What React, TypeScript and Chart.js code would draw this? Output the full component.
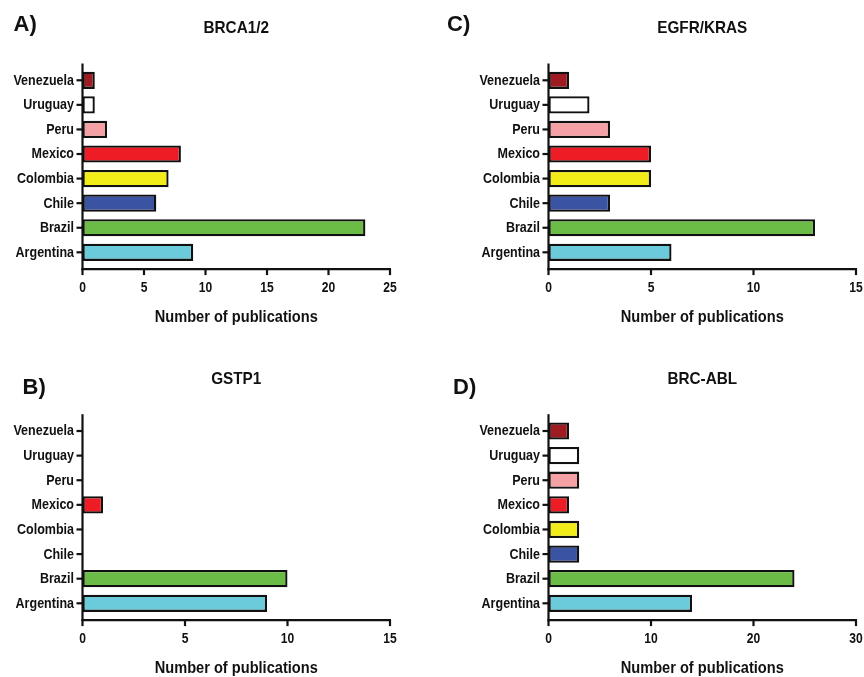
import React, { useEffect, useRef } from "react";
import { Chart, registerables } from "chart.js";

Chart.register(...registerables);

// ---------- data ----------
const countries = ["Venezuela", "Uruguay", "Peru", "Mexico", "Colombia", "Chile", "Brazil", "Argentina"];
const countryColors = ["#9E1B22", "#FFFFFF", "#F4A0A4", "#EE1D25", "#F2EC19", "#3A53A3", "#6BBC46", "#6CCBDA"];

const brcaValues = [1, 1, 2, 8, 7, 6, 23, 9];
const egfrKrasValues = [1, 2, 3, 5, 5, 3, 13, 6];
const gstp1Values = [0, 0, 0, 1, 0, 0, 10, 9];
const brcAblValues = [2, 3, 3, 2, 3, 3, 24, 14];

const panelLetters = ["A)", "C)", "B)", "D)"];
const panelTitles = ["BRCA1/2", "EGFR/KRAS", "GSTP1", "BRC-ABL"];
const panelValues = [brcaValues, egfrKrasValues, gstp1Values, brcAblValues];
const axisMax = [25, 15, 15, 30];
const axisStep = [5, 5, 5, 10];
const xAxisTitle = "Number of publications";

// ---------- layout (pixels, relative to each panel canvas) ----------
type Layout = {
  left: number; top: number; width: number; height: number;
  plotLeft: number; plotRight: number; plotTop: number; plotBottom: number;
  titleY: number; letterX: number; letterY: number;
};

const layouts: Layout[] = [
  { left: 0, top: 0, width: 432, height: 338, plotLeft: 82.5, plotRight: 390, plotTop: 68, plotBottom: 264.6, titleY: 29, letterX: 13.5, letterY: 25 },
  { left: 432, top: 0, width: 432, height: 338, plotLeft: 116.5, plotRight: 424, plotTop: 68, plotBottom: 264.6, titleY: 29, letterX: 15, letterY: 25 },
  { left: 0, top: 338, width: 432, height: 339, plotLeft: 82.5, plotRight: 390, plotTop: 80.7, plotBottom: 277.6, titleY: 42, letterX: 22.5, letterY: 50 },
  { left: 432, top: 338, width: 432, height: 339, plotLeft: 116.5, plotRight: 424, plotTop: 80.7, plotBottom: 277.6, titleY: 42, letterX: 21, letterY: 50 },
];

const FONT = "'Liberation Sans', Arial, Helvetica, sans-serif";
const EXT = 4.5;
const INK = "#111";

function condensedText(
  ctx: CanvasRenderingContext2D,
  text: string,
  x: number,
  y: number,
  size: number,
  sx: number,
  align: CanvasTextAlign
) {
  ctx.save();
  ctx.translate(x, y);
  ctx.scale(sx, 1);
  ctx.font = `bold ${size}px ${FONT}`;
  ctx.textAlign = align;
  ctx.textBaseline = "middle";
  ctx.fillStyle = INK;
  ctx.fillText(text, 0, 0);
  ctx.restore();
}

function Panel({ index }: { index: number }) {
  const ref = useRef<HTMLCanvasElement | null>(null);
  const L = layouts[index];

  useEffect(() => {
    if (!ref.current) return;
    const decor = {
      id: "decor",
      afterDraw(chart: any) {
        const ctx = chart.ctx as CanvasRenderingContext2D;
        const { left, right, top, bottom } = chart.chartArea;
        const xs = chart.scales.x;
        const ys = chart.scales.y;
        ctx.save();
        ctx.strokeStyle = INK;
        ctx.lineWidth = 2.2;
        ctx.lineCap = "butt";
        // y axis
        ctx.beginPath();
        ctx.moveTo(left, top - EXT);
        ctx.lineTo(left, bottom + EXT + 1);
        ctx.stroke();
        // x axis
        ctx.beginPath();
        ctx.moveTo(left - 1, bottom + EXT);
        ctx.lineTo(right + 1, bottom + EXT);
        ctx.stroke();
        // x ticks + labels
        xs.ticks.forEach((t: any) => {
          const px = xs.getPixelForValue(t.value);
          ctx.beginPath();
          ctx.moveTo(px, bottom + EXT);
          ctx.lineTo(px, bottom + EXT + 6);
          ctx.stroke();
          condensedText(ctx, String(t.label ?? t.value), px, bottom + 23, 14.4, 0.84, "center");
        });
        // y ticks + labels
        const labels: string[] = chart.data.labels;
        labels.forEach((name, i) => {
          const py = ys.getPixelForValue(i);
          ctx.beginPath();
          ctx.moveTo(left - 6, py);
          ctx.lineTo(left, py);
          ctx.stroke();
          condensedText(ctx, name, left - 8.5, py + 0.5, 14.4, 0.87, "right");
        });
        // axis title
        condensedText(ctx, xAxisTitle, (left + right) / 2, bottom + 53.5, 15.8, 0.925, "center");
        // panel title
        condensedText(ctx, panelTitles[index], (left + right) / 2, L.titleY, 16.3, 0.94, "center");
        // panel letter
        condensedText(ctx, panelLetters[index], L.letterX, L.letterY, 22, 1, "left");
        ctx.restore();
      },
    };

    const chart = new Chart(ref.current, {
      type: "bar",
      data: {
        labels: countries,
        datasets: [
          {
            data: panelValues[index],
            backgroundColor: countryColors,
            borderColor: INK,
            borderWidth: 2.3,
            borderSkipped: false,
            barPercentage: 0.7,
            categoryPercentage: 1,
          },
        ],
      },
      options: {
        indexAxis: "y",
        animation: false,
        responsive: false,
        maintainAspectRatio: false,
        layout: {
          padding: { left: 0, top: L.plotTop, right: L.width - L.plotRight, bottom: 0 },
        },
        plugins: { legend: { display: false }, tooltip: { enabled: false }, title: { display: false } },
        scales: {
          x: {
            min: 0,
            max: axisMax[index],
            border: { display: false },
            grid: { display: false, drawTicks: false },
            ticks: { stepSize: axisStep[index], display: false },
            title: { display: false },
            afterFit: (scale: any) => {
              scale.height = L.height - L.plotBottom;
            },
          },
          y: {
            border: { display: false },
            grid: { display: false, drawTicks: false },
            ticks: { display: false, autoSkip: false },
            afterFit: (scale: any) => {
              scale.width = L.plotLeft;
            },
          },
        },
      },
      plugins: [decor],
    } as any);
    return () => chart.destroy();
  }, [index]);

  return (
    <div style={{ position: "absolute", left: L.left, top: L.top, width: L.width, height: L.height }}>
      <canvas ref={ref} width={L.width} height={L.height} style={{ width: L.width, height: L.height, display: "block" }} />
    </div>
  );
}

export default function App() {
  return (
    <div style={{ position: "absolute", left: 0, top: 0, width: 864, height: 677, background: "#fff", overflow: "hidden" }}>
      {[0, 1, 2, 3].map((i) => (
        <Panel key={i} index={i} />
      ))}
    </div>
  );
}
